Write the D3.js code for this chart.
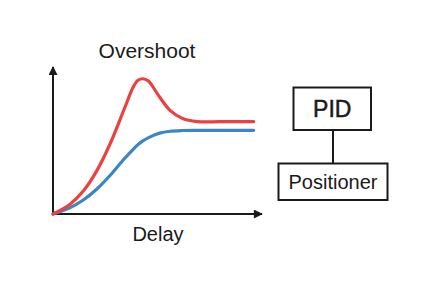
<!DOCTYPE html>
<html>
<head>
<meta charset="utf-8">
<script src="https://cdn.jsdelivr.net/npm/d3@7"></script>
<style>
  body { margin: 0; background: #fff; }
  text { font-family: "Liberation Sans", Arial, sans-serif; fill: #1a1a1a; }
</style>
</head>
<body>
<div id="chart"></div>
<script>
// time samples shared by both responses
const times = [0, 0.8, 1.45, 2.1, 2.75, 3.4, 3.85, 4.05, 4.3, 4.55, 5.1, 5.6, 6.2, 6.9, 8, 9.6]
// response with overshoot (red)
const overshootValues = [0, 0.65, 1.56, 2.95, 4.83, 7.11, 8.67, 9.08, 9.2, 9.06, 7.96, 7.05, 6.5, 6.29, 6.28, 6.28]
// delayed response (blue)
const delayValues = [0, 0.42, 0.95, 1.7, 2.65, 3.74, 4.42, 4.7, 4.97, 5.18, 5.5, 5.63, 5.68, 5.69, 5.69, 5.69]

const titleText = 'Overshoot'
const xLabel = 'Delay'
const boxLabels = ['PID', 'Positioner']

const W = 430, H = 286
const ORIGIN = { X: 53, Y: 214 }

const svg = d3.select('#chart')
    .append('svg')
    .attr('width', W)
    .attr('height', H)

const x = d3.scaleLinear()
    .domain([0, 10])
    .range([ORIGIN.X, 262])

const y = d3.scaleLinear()
    .domain([0, 10])
    .range([ORIGIN.Y, 67])

// arrowhead marker
svg.append('defs').append('marker')
    .attr('id', 'arrow')
    .attr('viewBox', '0 0 10 10')
    .attr('refX', 9)
    .attr('refY', 5)
    .attr('markerWidth', 5)
    .attr('markerHeight', 4.5)
    .attr('markerUnits', 'strokeWidth')
    .attr('orient', 'auto')
    .append('path')
    .attr('d', 'M0,0 L10,5 L0,10 Z')
    .attr('fill', '#1a1a1a')

// axes without ticks
const xAxis = svg.append('g')
    .attr('transform', `translate(0, ${ORIGIN.Y})`)
    .call(d3.axisBottom(x).ticks(0).tickSizeOuter(0))
const yAxis = svg.append('g')
    .attr('transform', `translate(${ORIGIN.X}, 0)`)
    .call(d3.axisLeft(y).ticks(0).tickSizeOuter(0))

;[xAxis, yAxis].forEach(g => {
    g.select('.domain')
        .attr('stroke', '#1a1a1a')
        .attr('stroke-width', 2)
        .attr('marker-end', 'url(#arrow)')
})
// redraw domain paths so the arrows sit at the far ends
yAxis.select('.domain').attr('d', `M0,${ORIGIN.Y}V${y(10)}`)
xAxis.select('.domain').attr('d', `M${ORIGIN.X},0H${x(10)}`)

const line = d3.line()
    .x((d, i) => x(times[i]))
    .y(d => y(d))
    .curve(d3.curveCatmullRom.alpha(0.5))

svg.append('path')
    .datum(delayValues)
    .attr('d', line)
    .attr('fill', 'none')
    .attr('stroke', '#3a86c6')
    .attr('stroke-width', 3.2)
    .attr('stroke-linecap', 'round')

svg.append('path')
    .datum(overshootValues)
    .attr('d', line)
    .attr('fill', 'none')
    .attr('stroke', '#ec4141')
    .attr('stroke-width', 3.2)
    .attr('stroke-linecap', 'round')

svg.append('text')
    .attr('x', 147)
    .attr('y', 58)
    .attr('font-size', 21)
    .attr('text-anchor', 'middle')
    .text(titleText)

svg.append('text')
    .attr('x', 158)
    .attr('y', 241)
    .attr('font-size', 20)
    .attr('text-anchor', 'middle')
    .text(xLabel)

// block diagram on the right
const boxes = [
    { x: 293.5, y: 87.5, w: 77.5, h: 42.5, size: 23 },
    { x: 278.5, y: 163.5, w: 109, h: 36.5, size: 20 }
]

svg.append('line')
    .attr('x1', 333).attr('x2', 333)
    .attr('y1', boxes[0].y + boxes[0].h)
    .attr('y2', boxes[1].y)
    .attr('stroke', '#1a1a1a')
    .attr('stroke-width', 2)

boxes.forEach((b, i) => {
    svg.append('rect')
        .attr('x', b.x).attr('y', b.y)
        .attr('width', b.w).attr('height', b.h)
        .attr('fill', '#fff')
        .attr('stroke', '#1a1a1a')
        .attr('stroke-width', 2)
    svg.append('text')
        .attr('x', b.x + b.w / 2)
        .attr('y', b.y + b.h / 2)
        .attr('dy', '0.36em')
        .attr('font-size', b.size)
        .attr('text-anchor', 'middle')
        .attr('stroke', i === 0 ? '#1a1a1a' : 'none')
        .attr('stroke-width', 0.5)
        .text(boxLabels[i])
})
</script>
</body>
</html>
